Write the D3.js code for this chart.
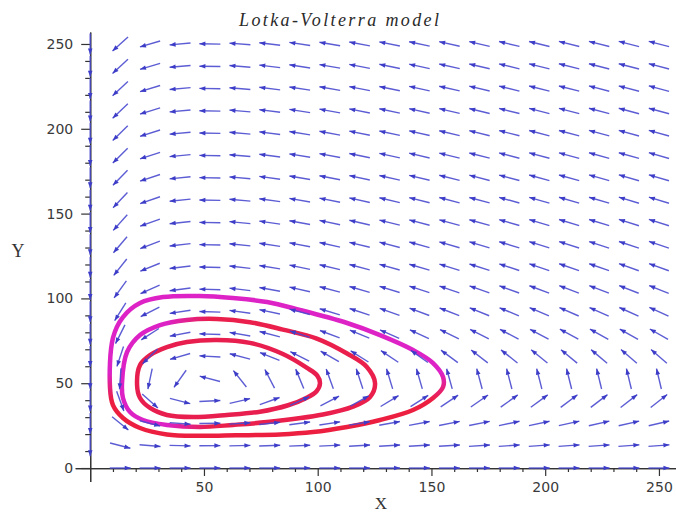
<!DOCTYPE html>
<html>
<head>
<meta charset="utf-8">
<script src="https://cdn.jsdelivr.net/npm/d3@7"></script>
<style>
  body { margin: 0; background: #fff; }
  svg { display: block; }
</style>
</head>
<body>
<svg id="chart" width="676" height="515"></svg>
<script>
/*
 * Lotka-Volterra phase portrait: direction field plus three closed orbits.
 */

// model dx/dt = alpha*x - beta*x*y , dy/dt = -gamma*y + delta*x*y
var alpha = 0.1, beta = 0.002, gamma = 0.035, delta = 0.0007;

// grid of the direction field (same on both axes)
var gridValues = [0, 13.2, 26.3, 39.5, 52.6, 65.8, 78.9, 92.1, 105.3, 118.4,
	131.6, 144.7, 157.9, 171.1, 184.2, 197.4, 210.5, 223.7, 236.8, 250];

// tick labels
var xTickLabels = [50, 100, 150, 200, 250];
var yTickLabels = [0, 50, 100, 150, 200, 250];
var minorTicks = [10, 20, 30, 40, 60, 70, 80, 90, 110, 120, 130, 140, 160, 170,
	180, 190, 210, 220, 230, 240];

// orbits, [x, y]
var innerOrbit = [[20.6, 48.9], [21.9, 60.7], [26.3, 66.6], [33.7, 71.3], [42.5, 74.3],
	[55.7, 75.5], [70.2, 73.8], [84.7, 67.2], [95.3, 59.0], [99.8, 54.5], [101.0, 50.0],
	[99.5, 45.3], [95.0, 41.3], [87.0, 37.0], [74.6, 33.2], [60.1, 31.3], [45.2, 30.1],
	[33.7, 31.3], [26.3, 35.4], [21.9, 41.3]];
var middleOrbit = [[14.0, 50.7], [16.2, 68.4], [21.9, 78.4], [30.7, 84.3], [42.5, 87.3],
	[55.7, 87.9], [70.2, 86.0], [84.7, 81.6], [99.6, 76.3], [112.9, 67.5], [121.6, 59.6],
	[125.2, 50.1], [123.0, 41.9], [115.5, 36.2], [102.3, 31.6], [77.7, 27.1], [62.7, 25.4],
	[48.2, 24.2], [33.7, 25.4], [23.2, 28.3], [17.5, 33.0], [14.4, 41.3]];
var outerOrbit = [[8.7, 47.2], [10.0, 76.7], [14.4, 89.0], [21.9, 97.3], [32.0, 100.8],
	[48.2, 101.4], [62.7, 100.2], [77.7, 97.9], [92.2, 93.2], [112.9, 85.5], [127.4, 78.4],
	[141.9, 69.6], [150.7, 61.9], [155.1, 53.7], [155.1, 47.8], [150.7, 41.3], [141.9, 34.2],
	[127.4, 28.3], [112.9, 24.2], [97.9, 21.2], [83.4, 19.8], [64.0, 19.3], [48.2, 19.0],
	[33.7, 19.8], [21.9, 23.6], [14.4, 29.5], [10.0, 37.1]];

var svg = d3.select("#chart");

var x = d3.scaleLinear().domain([-6.6, 257.5]).range([75.2, 676]);
var y = d3.scaleLinear().domain([-8, 257]).range([481.6, 32.1]);

// gradients so the orbits look like the red / magenta overlap of the original
var defs = svg.append("defs");
var gOuter = defs.append("linearGradient").attr("id", "gOuter")
	.attr("x1", 0).attr("y1", 0).attr("x2", 0).attr("y2", 1);
gOuter.append("stop").attr("offset", 0).attr("stop-color", "#dd22c6");
gOuter.append("stop").attr("offset", 0.55).attr("stop-color", "#dd22c6");
gOuter.append("stop").attr("offset", 0.75).attr("stop-color", "#ec1f40");
gOuter.append("stop").attr("offset", 1).attr("stop-color", "#ec1f40");
var gMiddle = defs.append("linearGradient").attr("id", "gMiddle")
	.attr("x1", 0).attr("y1", 0).attr("x2", 1).attr("y2", 0);
gMiddle.append("stop").attr("offset", 0).attr("stop-color", "#dc22c4");
gMiddle.append("stop").attr("offset", 0.18).attr("stop-color", "#dc22c4");
gMiddle.append("stop").attr("offset", 0.35).attr("stop-color", "#ea1f4c");
gMiddle.append("stop").attr("offset", 1).attr("stop-color", "#ea1f4c");

// axes through the origin
var yMajor = d3.axisLeft(y).tickValues(yTickLabels).tickSize(9).tickSizeOuter(0).tickPadding(8);
var yMinor = d3.axisLeft(y).tickValues(minorTicks).tickSize(5).tickSizeOuter(0).tickFormat("");
var xMajor = d3.axisBottom(x).tickValues(xTickLabels).tickSize(8).tickSizeOuter(0).tickPadding(6);
var xMinor = d3.axisBottom(x).tickValues(minorTicks).tickSize(4).tickSizeOuter(0).tickFormat("");

function styleAxis(g) {
	g.selectAll("path, line").attr("stroke", "#333").attr("stroke-width", 1.2);
	g.selectAll("text").attr("fill", "#3a3a3a")
		.style("font-family", "DejaVu Sans, sans-serif").style("font-size", "14px");
}

svg.append("g").attr("transform", "translate(" + x(0) + ",0)").call(yMinor).call(styleAxis);
svg.append("g").attr("transform", "translate(" + x(0) + ",0)").call(yMajor).call(styleAxis);
svg.append("g").attr("transform", "translate(0," + y(0) + ")").call(xMinor).call(styleAxis);
svg.append("g").attr("transform", "translate(0," + y(0) + ")").call(xMajor).call(styleAxis);

// orbits
var orbitLine = d3.line()
	.x(function(d) { return x(d[0]); })
	.y(function(d) { return y(d[1]); })
	.curve(d3.curveCatmullRomClosed.alpha(0.5));

svg.append("path").datum(outerOrbit).attr("d", orbitLine)
	.attr("fill", "none").attr("stroke", "url(#gOuter)").attr("stroke-width", 4.5);
svg.append("path").datum(middleOrbit).attr("d", orbitLine)
	.attr("fill", "none").attr("stroke", "url(#gMiddle)").attr("stroke-width", 4.5);
svg.append("path").datum(innerOrbit).attr("d", orbitLine)
	.attr("fill", "none").attr("stroke", "#e81e4e").attr("stroke-width", 4.5);

// direction field: every grid point, unit arrows centred on the point
var field = [];
gridValues.forEach(function(gx) {
	gridValues.forEach(function(gy) {
		var dx = alpha * gx - beta * gx * gy;
		var dy = -gamma * gy + delta * gx * gy;
		if (dx === 0 && dy === 0) return;
		// direction in screen space
		var sx = x(gx + dx) - x(gx), sy = y(gy + dy) - y(gy);
		var n = Math.sqrt(sx * sx + sy * sy);
		field.push({ cx: x(gx), cy: y(gy), ux: sx / n, uy: sy / n });
	});
});

var arrowLen = 21, headLen = 6, headHalf = 2.3;
var arrows = svg.append("g").attr("class", "field");

arrows.selectAll("line").data(field).enter().append("line")
	.attr("x1", function(d) { return d.cx - d.ux * arrowLen / 2; })
	.attr("y1", function(d) { return d.cy - d.uy * arrowLen / 2; })
	.attr("x2", function(d) { return d.cx + d.ux * arrowLen / 2; })
	.attr("y2", function(d) { return d.cy + d.uy * arrowLen / 2; })
	.attr("stroke", "#4a4acf").attr("stroke-width", 1.4).attr("stroke-opacity", 0.9);

arrows.selectAll("path").data(field).enter().append("path")
	.attr("d", function(d) {
		var tx = d.cx + d.ux * arrowLen / 2, ty = d.cy + d.uy * arrowLen / 2;
		var bx = tx - d.ux * headLen, by = ty - d.uy * headLen;
		return "M" + tx + "," + ty +
			"L" + (bx - d.uy * headHalf) + "," + (by + d.ux * headHalf) +
			"L" + (bx + d.uy * headHalf) + "," + (by - d.ux * headHalf) + "Z";
	})
	.attr("fill", "#3d3dc8");

// title and axis labels
svg.append("text").attr("x", 339).attr("y", 26).attr("text-anchor", "middle")
	.style("font-family", "Liberation Serif, serif").style("font-style", "italic")
	.style("font-size", "18px").attr("fill", "#2a2a2a")
	.attr("textLength", 200).attr("lengthAdjust", "spacing")
	.text("Lotka-Volterra model");

svg.append("text").attr("x", 381).attr("y", 509).attr("text-anchor", "middle")
	.style("font-family", "Liberation Serif, serif").style("font-size", "17px")
	.attr("fill", "#333").text("X");

svg.append("text").attr("x", 18).attr("y", 257).attr("text-anchor", "middle")
	.style("font-family", "Liberation Serif, serif").style("font-size", "18px")
	.attr("fill", "#333").text("Y");
</script>
</body>
</html>
